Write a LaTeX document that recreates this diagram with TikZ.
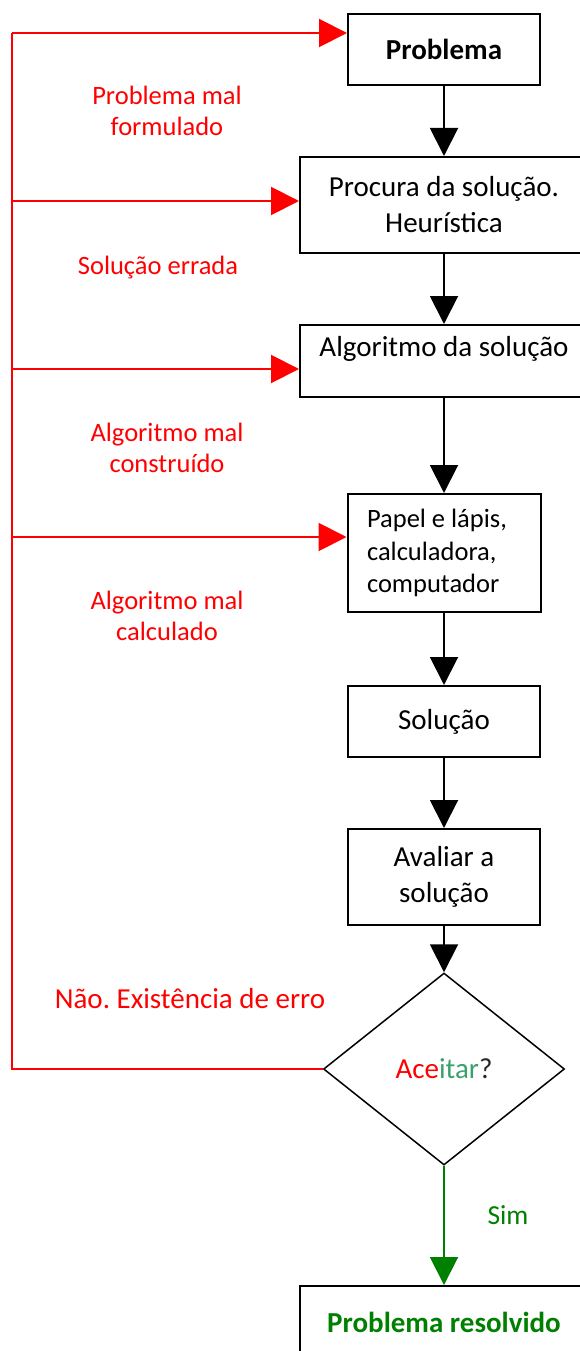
\documentclass[tikz,border=0pt]{standalone}
\usepackage{fontspec}
\setmainfont{Carlito}
\usetikzlibrary{arrows.meta,shapes.geometric}
\definecolor{errred}{RGB}{255,0,0}
\definecolor{okgreen}{RGB}{0,128,0}
\definecolor{itargreen}{RGB}{60,160,110}
\definecolor{qgray}{RGB}{40,40,40}
\frenchspacing
\tikzset{
  box/.style={draw=black,line width=2pt,rectangle,inner sep=0pt,align=center,
    font=\fontsize{29}{36}\selectfont},
  blk/.style={draw=black,line width=2pt,-{Triangle[width=28pt,length=28pt]}},
  redln/.style={draw=errred,line width=2pt},
  redarr/.style={redln,-{Triangle[width=28pt,length=28pt]}},
  grnarr/.style={draw=okgreen,line width=2pt,-{Triangle[width=28pt,length=28pt]}},
  redlbl/.style={text=errred,align=center,inner sep=0pt,font=\fontsize{26.5}{31}\selectfont},
}
\begin{document}
\begin{tikzpicture}[x=1pt,y=-1pt]
\useasboundingbox (0,0) rectangle (580,1351);
\node[box,minimum width=192pt,minimum height=71pt] (p1) at (444,49.5) {\textbf{Problema}};
\node[box,minimum width=288pt,minimum height=96pt] (p2) at (444,205) {Procura da solução.\\Heurística};
\node[box,minimum width=288pt,minimum height=72pt,text height=20pt,text depth=30pt] (p3) at (444,361) {Algoritmo da solução};
\node[box,minimum width=193pt,minimum height=118pt,text width=154pt,align=flush left,
  font=\fontsize{26.5}{32.5}\selectfont] (p4) at (444,553) {Papel e lápis,\\calculadora,\\computador};
\node[box,minimum width=192pt,minimum height=71pt] (p5) at (444,721.5) {Solução};
\node[box,minimum width=192pt,minimum height=96pt] (p6) at (444,877) {Avaliar a\\solução};
\node[box,diamond,line width=1.5pt,minimum width=241pt,minimum height=192pt] (d) at (444,1069)
  {\textcolor{errred}{Ace}\textcolor{itargreen}{itar}\textcolor{qgray}{?}};
\node[box,minimum width=288pt,minimum height=72pt] (p7) at (444,1322) {\textcolor{okgreen}{\textbf{Problema resolvido}}};

\draw[blk] (p1.south) -- (p2.north);
\draw[blk] (p2.south) -- (p3.north);
\draw[blk] (p3.south) -- (p4.north);
\draw[blk] (p4.south) -- (p5.north);
\draw[blk] (p5.south) -- (p6.north);
\draw[blk] (p6.south) -- (d.north);
\draw[grnarr] (d.south) -- (p7.north);

\coordinate (c1) at (12,33);
\coordinate (c2) at (12,201);
\coordinate (c3) at (12,369);
\coordinate (c4) at (12,537);
\draw[redln] (d.west) -| (c1);
\draw[redarr] (c1) -- (c1 -| p1.west);
\draw[redarr] (c2) -- (c2 -| p2.west);
\draw[redarr] (c3) -- (c3 -| p3.west);
\draw[redarr] (c4) -- (c4 -| p4.west);

\node[redlbl] (l1) at (167,111) {Problema mal\\formulado};
\node[redlbl] (l2) at (158,268) {Solução errada};
\node[redlbl] (l3) at (167,448) {Algoritmo mal\\construído};
\node[redlbl] (l4) at (167,616) {Algoritmo mal\\calculado};
\node[redlbl,font=\fontsize{29}{35}\selectfont] (l5) at (190,999) {Não. Existência de erro};
\node[text=okgreen,inner sep=0pt,font=\fontsize{27.5}{33}\selectfont] (sim) at (508,1215) {Sim};
\end{tikzpicture}
\end{document}
